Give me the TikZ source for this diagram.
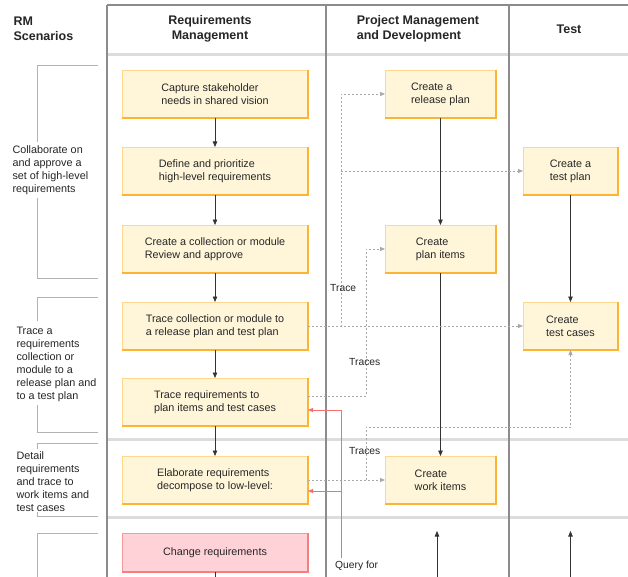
\documentclass[tikz,border=0pt]{standalone}
\usepackage{fontspec}
\setmainfont{Liberation Sans}
\usetikzlibrary{positioning,arrows.meta,calc}
\definecolor{boxfill}{HTML}{FFF6DA}
\definecolor{boxline}{HTML}{FDD88C}
\definecolor{boxedge}{HTML}{FBB436}
\definecolor{chgfill}{HTML}{FFD2D8}
\definecolor{chgline}{HTML}{F49A9A}
\definecolor{chgedge}{HTML}{F28080}
\definecolor{lane}{HTML}{8C8C8C}
\definecolor{bandc}{HTML}{DCDCDC}
\definecolor{tracec}{HTML}{A8A8A8}
\definecolor{query}{HTML}{F27070}

\begin{document}
\begin{tikzpicture}[x=1pt, y=-1pt,
  act/.style={draw=boxline, fill=boxfill, line width=0.8pt, outer sep=0pt, inner sep=0pt,
              minimum height=48pt, align=left, text=black!85,
              font=\fontsize{10.8}{13}\selectfont},
  chgbox/.style={act, draw=chgline, fill=chgfill, minimum height=39pt},
  edge/.style={draw=boxedge, line width=1.6pt},
  hdr/.style={font=\bfseries\fontsize{12.5}{15}\selectfont, align=center, text=black!85},
  scn/.style={font=\fontsize{10.8}{13}\selectfont, align=left, anchor=west, text=black!85},
  lab/.style={font=\fontsize{10.3}{12}\selectfont, inner sep=1pt, text=black!85},
  lanes/.style={draw=lane, line width=1.1pt},
  band/.style={draw=bandc, line width=3pt},
  brk/.style={draw=black!30, line width=0.8pt},
  flow/.style={-{Triangle[length=5.5pt,width=4.5pt]}, line width=0.7pt, color=black!80},
  trace/.style={-{Triangle[length=5pt,width=4pt]}, color=tracec, dash pattern=on 2pt off 2pt,
                line width=0.8pt},
  qry/.style={-{Triangle[length=5pt,width=4pt]}, color=query, line width=0.8pt}]
\fill[white] (0,0) rectangle (628,577);
\useasboundingbox (0,0) rectangle (628,577);

% swimlane frame
\draw[band] (107,55) -- (628,55);
\draw[band] (107,439) -- (628,439);
\draw[band] (107,517) -- (628,517);
\draw[lanes] (107,5) -- (628,5);
\draw[lanes] (107,5) -- (107,580);
\draw[lanes] (326,5) -- (326,580);
\draw[lanes] (509,5) -- (509,580);

\node[hdr, align=left, anchor=west] (hrm) at (10,29) {RM\\Scenarios};
\node[hdr] (hreq) at (210,29) {Requirements\\Management};
\node[hdr, align=left] (hpm) at (418,29) {Project Management\\and Development};
\node[hdr] (htst) at (569,29) {Test};

% scenarios
\node[scn] (s1) at (9,170) {Collaborate on\\and approve a\\set of high-level\\requirements};
\node[scn] (s2) at (13,364) {Trace a\\requirements\\collection or\\module to a\\release plan and\\to a test plan};
\node[scn] (s3) at (13,482) {Detail\\requirements\\and trace to\\work items and\\test cases};
\draw[brk] (98,65) -- (37,65) -- (37,142);
\draw[brk] (37,198) -- (37,278) -- (98,278);
\draw[brk] (98,297) -- (37,297) -- (37,321);
\draw[brk] (37,405) -- (37,432) -- (98,432);
\draw[brk] (98,443) -- (37,443) -- (37,449);
\draw[brk] (37,512) -- (37,516) -- (98,516);
\draw[brk] (98,533) -- (37,533) -- (37,580);

% requirements management
\node[act, minimum width=186pt] (cap) at (215,94) {Capture stakeholder\\needs in shared vision};
\node[act, minimum width=186pt, below=29pt of cap] (def) {Define and prioritize\\high-level requirements};
\node[act, minimum width=186pt, below=30pt of def] (coll) {Create a collection or module\\Review and approve};
\node[act, minimum width=186pt, below=29pt of coll] (trc) {Trace collection or module to\\a release plan and test plan};
\node[act, minimum width=186pt, below=28pt of trc] (req) {Trace requirements to\\plan items and test cases};
\node[act, minimum width=186pt, below=30pt of req] (elab) {Elaborate requirements\\decompose to low-level:};
\node[chgbox, minimum width=186pt, below=29pt of elab] (chg) {Change requirements};

% project management and development
\node[act, minimum width=111pt, right=77pt of cap] (rel) {Create a\\release plan};
\node[act, minimum width=111pt, right=77pt of coll] (pli) {Create\\plan items};
\node[act, minimum width=111pt, right=77pt of elab] (wrk) {Create\\work items};

% test
\node[act, minimum width=95pt, right=215pt of def] (tpl) {Create a\\test plan};
\node[act, minimum width=95pt, right=215pt of trc] (tcs) {Create\\test cases};

\foreach \n in {cap,def,coll,trc,req,elab,rel,pli,wrk,tpl,tcs}
  \draw[edge] (\n.north east) -- (\n.south east) -- (\n.south west);
\draw[edge, draw=chgedge] (chg.north east) -- (chg.south east) -- (chg.south west);

\coordinate (chgout) at (215,580);
\coordinate (pmin) at (437,580);
\coordinate (tstin) at (570.5,580);
\coordinate (tr1) at (341,0);
\coordinate (tr2) at (366,0);
\coordinate (tr3) at (570.5,427);
\coordinate (qsrc) at (341,558);
\coordinate (reqq) at ([yshift=-8pt]req.east);
\coordinate (reqt) at ([yshift=6pt]req.east);
\coordinate (elabq) at ([yshift=-11pt]elab.east);

\draw[flow] (cap) -- (def);
\draw[flow] (def) -- (coll);
\draw[flow] (coll) -- (trc);
\draw[flow] (trc) -- (req);
\draw[flow] (req) -- (elab);
\draw[flow, -] (chg) -- (chgout);
\draw[flow] (rel) -- (pli);
\draw[flow] (pli) -- (wrk);
\draw[flow] (tpl) -- (tcs);
\draw[flow] (pmin) -- ++(0,-49);
\draw[flow] (tstin) -- ++(0,-49);

% traces
\draw[trace] (trc.east) -- (trc.east -| tr1) |- (rel.west);
\draw[trace] (tr1 |- tpl.west) -- (tpl.west);
\draw[trace] (trc.east) -- (tcs.west);
\draw[trace] (reqt) -- (reqt -| tr2) |- (pli.west);
\draw[trace] (elab.east) -- (wrk.west);
\draw[trace] (tr2 |- wrk.west) |- (tr3) -- (tcs.south);
\node[lab, anchor=west] (ltr) at (329,288) {Trace};
\node[lab, anchor=west] (ltr2) at (348,362) {Traces};
\node[lab, anchor=west] (ltr3) at (348,451) {Traces};

% query
\draw[qry] (qsrc) |- (reqq);
\draw[qry] (qsrc |- elabq) -- (elabq);
\node[lab, anchor=north west] (lq) at (334,560) {Query for};
\end{tikzpicture}
\end{document}
